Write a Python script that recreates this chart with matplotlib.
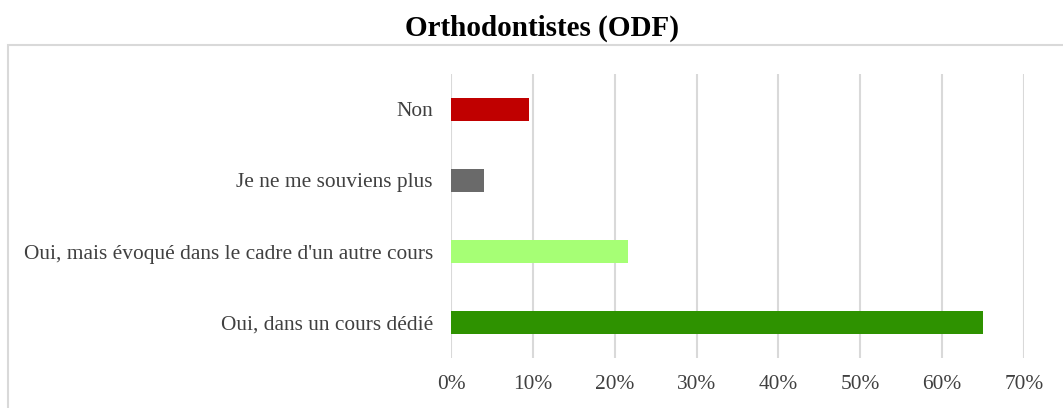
import matplotlib.pyplot as plt
from matplotlib.patches import Rectangle
from matplotlib.ticker import PercentFormatter

categories = ["Oui, dans un cours dédié",
              "Oui, mais évoqué dans le cadre d'un autre cours",
              "Je ne me souviens plus",
              "Non"]
values = [65.0, 21.6, 4.0, 9.5]
colors = ["#2E9200", "#A6FF75", "#6A6A6A", "#C00000"]

plt.rcParams['font.family'] = ['Liberation Serif', 'DejaVu Serif']

fig = plt.figure(figsize=(10.63, 4.08), dpi=100)
ax = fig.add_axes([451 / 1063, 1 - 358 / 408, (1024 - 451) / 1063, (358 - 74) / 408])

ax.barh(range(len(categories)), values, height=0.32, color=colors, zorder=3)
ax.set_yticks(range(len(categories)))
ax.set_yticklabels(categories, fontsize=15.4, color="#404040")
ax.set_ylim(-0.5, 3.5)
ax.set_xlim(0, 70)
ax.set_xticks(range(0, 71, 10))
ax.xaxis.set_major_formatter(PercentFormatter(decimals=0))
ax.tick_params(axis='x', labelsize=15.4, labelcolor="#404040", length=0, pad=12)
ax.tick_params(axis='y', length=0, pad=13)
ax.grid(axis='x', color="#D9D9D9", linewidth=1.5, zorder=0)
for s in ax.spines.values():
    s.set_visible(False)

fig.text(542 / 1063, 1 - 28 / 408, "Orthodontistes (ODF)", ha='center', va='center',
         fontsize=21, fontweight='bold', color='black')

# chart border
fig.patches.append(Rectangle((8 / 1063, -0.1), 1.2, 1.1 - 45 / 408,
                             transform=fig.transFigure, fill=False,
                             edgecolor="#D9D9D9", linewidth=1.5))

fig.savefig("out.png", dpi=100)
